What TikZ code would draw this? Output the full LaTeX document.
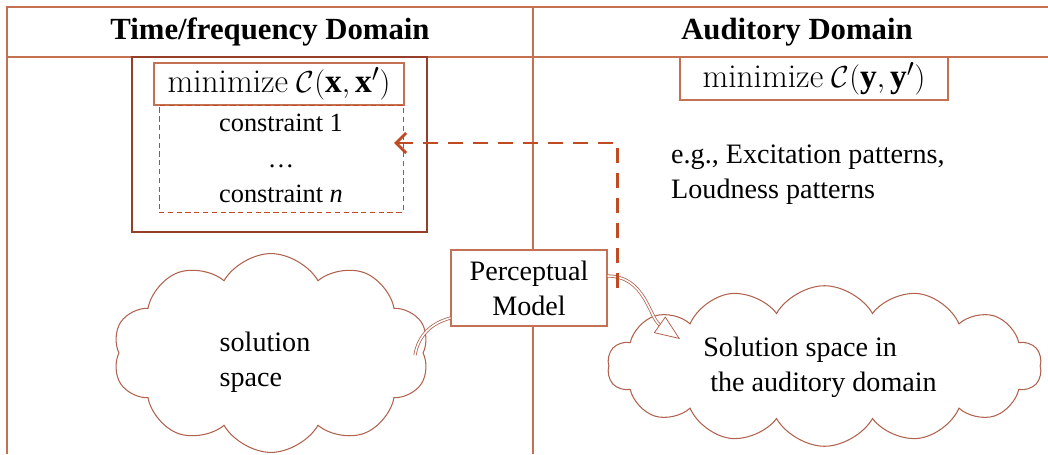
\documentclass[tikz,border=0pt]{standalone}
\usepackage{fontspec}
\setmainfont{Liberation Serif}
\usepackage{amsmath, amssymb}
\usepackage{tikz}
\usetikzlibrary{positioning, shapes.symbols, arrows.meta}
\definecolor{framecol}{RGB}{196,112,82}
\definecolor{boxcol}{RGB}{150,62,42}
\definecolor{dashcol}{RGB}{192,74,34}
\definecolor{cloudcol}{RGB}{176,98,78}
\newcommand{\lmtext}[1]{{\fontfamily{lmr}\selectfont #1}}

\begin{document}
\begin{tikzpicture}[
    body/.style={font=\fontsize{16}{20}\selectfont},
    head/.style={font=\fontsize{17.5}{20}\selectfont\bfseries},
    minbox/.style={draw=framecol, line width=0.7pt, inner sep=0pt, font=\fontsize{19}{20}\selectfont},
    puff/.style={cloud, cloud puffs=10, cloud puff arc=120, draw=cloudcol, line width=0.6pt},
    dbl/.style={draw=cloudcol, double=white, double distance=0.9pt, line width=0.45pt}
]
\useasboundingbox (0,0) rectangle (20.96,9.08);

% Table lines
\draw[framecol, line width=0.6pt] (0.14,0) -- (0.14,8.94) -- (20.96,8.94);
\draw[framecol, line width=0.6pt] (0.14,7.94) -- (20.96,7.94);
\draw[framecol, line width=0.6pt] (10.66,8.94) -- (10.66,0);

% Headers
\node[head] (tfhead) at (5.4,8.44) {Time/frequency Domain};
\node[head] (audhead) at (15.94,8.44) {Auditory Domain};

% Optimisation problem, time/frequency domain
\node[draw=boxcol, line width=0.8pt, minimum width=5.9cm, minimum height=3.5cm] (optbox) at (5.59,6.19) {};
\node[minbox, minimum width=5.0cm, minimum height=0.84cm] (xmin) at (5.58,7.40)
    {\lmtext{minimize} $\mathcal{C}(\mathbf{x},\mathbf{x}')$};
\node[draw=dashcol, densely dashed, line width=0.4pt, minimum width=4.88cm, minimum height=2.14cm,
      align=center, font=\fontsize{15}{20}\selectfont] (cons) at (5.62,5.91)
    {constraint 1\\ \dots\\ constraint \textit{n}};

% Optimisation problem, auditory domain
\node[minbox, minimum width=5.36cm, minimum height=0.86cm] (ymin) at (16.28,7.51)
    {\lmtext{minimize} $\mathcal{C}(\mathbf{y},\mathbf{y}')$};
\node[body, align=left, anchor=west] (eg) at (13.3,5.59)
    {e.g., Excitation patterns,\\ Loudness patterns};

% Solution spaces
\node[puff, aspect=2.0, inner xsep=2.15cm, inner ysep=0.9cm] (lcloud) at (5.42,2.02) {};
\node[body, align=left] (lsol) at (5.3,1.83) {solution\\ space};
\node[puff, cloud puffs=14, aspect=4, inner xsep=3.05cm, inner ysep=0.5cm] (rcloud) at (16.49,1.76) {};
\node[body, align=left] (rsol) at (16.4,1.73) {Solution space in\\ \ the auditory domain};

% Perceptual model
\node[draw=framecol, fill=white, line width=0.6pt, body, align=center,
      minimum width=3.12cm, minimum height=1.52cm] (pm) at (10.58,3.32) {Perceptual\\ Model};

% Connectors
\coordinate (lend) at (8.3,1.98);
\coordinate (rtip) at (13.6,2.3);
\coordinate (ctip) at (7.88,6.22);
\draw[dbl] ([yshift=-0.6cm]pm.west) to[out=195, in=80] (lend);
\draw[dbl, -{Triangle[open, length=0.5cm, width=0.4cm]}] ([yshift=0.24cm]pm.east) to[out=0, in=145] (rtip);
\draw[dashcol, line width=1.7pt, dash pattern=on 0.3cm off 0.2cm, -{Straight Barb[length=0.2cm, width=0.4cm]}]
    ([xshift=0.2cm]pm.east) |- (ctip);
\end{tikzpicture}
\end{document}
